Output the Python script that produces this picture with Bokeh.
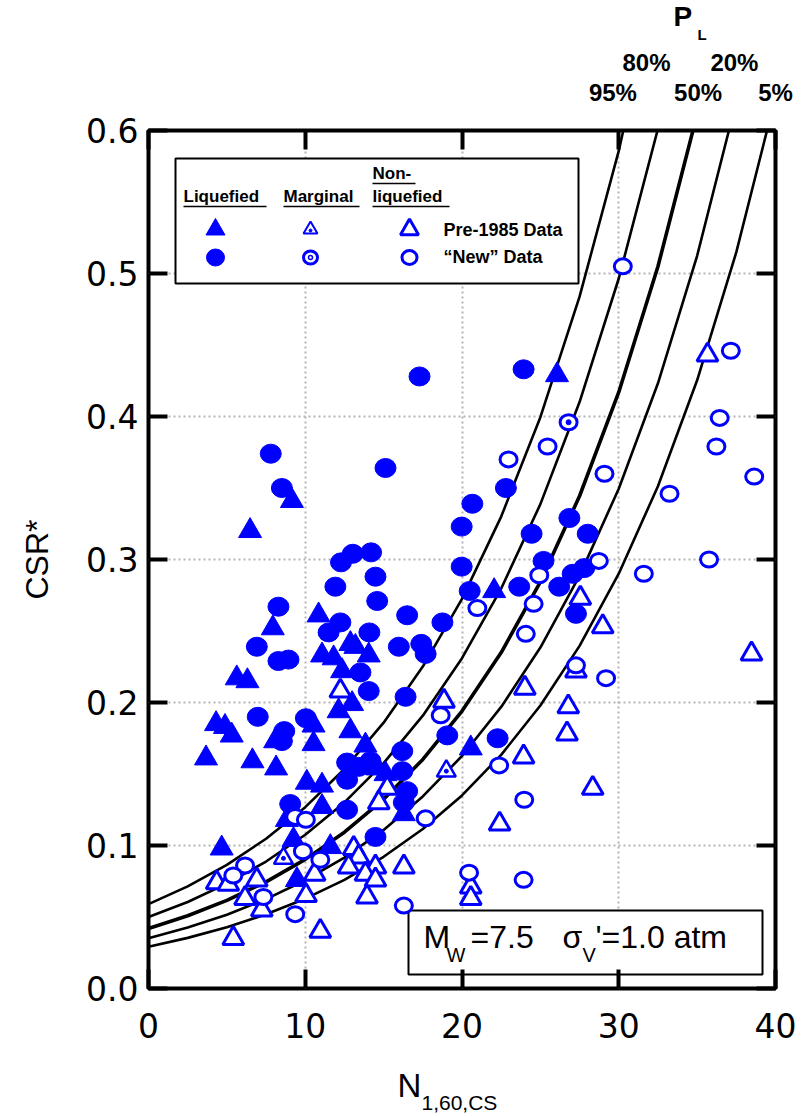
from bokeh.plotting import figure
from bokeh.models import Range1d, LinearAxis, FixedTicker, NumeralTickFormatter, CustomJSTickFormatter
from bokeh.layouts import column
from bokeh.core.properties import value
from bokeh.embed import file_html
from bokeh.resources import INLINE

# ---------------- data ----------------
# probability contour curves, N1,60,cs grid
curve_n = [0, 2.5, 5, 7.5, 10, 12.5, 15, 17.5, 20, 22.5, 25, 27.5, 30, 32.5, 35, 37.5, 40]
curve_95 = [0.0590, 0.0714, 0.0865, 0.1047, 0.1268, 0.1535, 0.1859, 0.2251, 0.2725, 0.3300, 0.3995, 0.4838, 0.5857, 0.7092, 0.86, 1.04, 1.26]
curve_80 = [0.0500, 0.0605, 0.0733, 0.0888, 0.1075, 0.1301, 0.1576, 0.1908, 0.2310, 0.2797, 0.3387, 0.4101, 0.4965, 0.6012, 0.728, 0.88, 1.07]
curve_50 = [0.0420, 0.0509, 0.0616, 0.0746, 0.0903, 0.1093, 0.1323, 0.1602, 0.1940, 0.2349, 0.2844, 0.3444, 0.4170, 0.5049, 0.6113, 0.74, 0.90]
curve_20 = [0.0352, 0.0426, 0.0516, 0.0625, 0.0757, 0.0916, 0.1109, 0.1343, 0.1626, 0.1969, 0.2384, 0.2887, 0.3495, 0.4232, 0.5124, 0.6204, 0.751]
curve_05 = [0.0292, 0.0354, 0.0428, 0.0519, 0.0628, 0.0760, 0.0921, 0.1115, 0.1350, 0.1634, 0.1979, 0.2396, 0.2901, 0.3512, 0.4253, 0.5149, 0.6235]
# labels of the curves (top rows) and the N value over which each is centred
curve_labels_row1 = ["80%", "20%"]
curve_labels_row1_n = [31.77, 37.38]
curve_labels_row2 = ["95%", "50%", "5%"]
curve_labels_row2_n = [29.63, 35.06, 40.0]

# Liquefied, pre-1985 (filled triangles)
liq_pre_n = [9.15, 6.48, 7.93, 5.63, 6.31, 4.31, 4.88, 5.31, 8.08, 3.67, 6.63, 8.14, 8.83, 4.67, 9.25, 9.47, 11.6,
             10.85, 11.07, 11.81, 12.88, 13.2, 14.05, 12.35, 12.13, 12.99, 10.53, 10.53, 12.88, 13.84, 20.56, 10.1,
             11.07, 11.07, 14.59, 15.12, 16.29, 22.05, 26.06]
liq_pre_csr = [0.341, 0.320, 0.252, 0.217, 0.215, 0.185, 0.183, 0.177, 0.173, 0.161, 0.159, 0.154, 0.118, 0.098, 0.104, 0.076, 0.099,
               0.261, 0.233, 0.231, 0.241, 0.239, 0.233, 0.222, 0.194, 0.199, 0.184, 0.171, 0.180, 0.170, 0.168, 0.144,
               0.142, 0.127, 0.154, 0.150, 0.122, 0.278, 0.429]

# Liquefied, "new" data (filled circles)
liq_new_n = [7.80, 8.51, 8.29, 6.91, 8.29, 8.93, 6.97, 10.04, 8.66, 8.51, 9.04,
             17.29, 15.12, 20.66, 19.98, 12.28, 13.03, 14.20, 14.48, 11.92, 19.98, 20.49, 14.59,
             12.24, 16.50, 18.75, 11.49, 14.09, 15.97, 17.40, 17.68, 13.52, 14.05, 16.40, 19.06, 12.67, 13.41,
             14.16, 16.19, 16.19, 16.50, 16.29, 12.67, 12.67, 14.48, 22.27,
             23.93, 22.80, 26.85, 24.44, 28.02, 25.20, 27.80, 27.06, 23.65, 26.20, 27.27]
liq_new_csr = [0.374, 0.350, 0.267, 0.239, 0.229, 0.230, 0.190, 0.189, 0.180, 0.173, 0.129,
               0.428, 0.364, 0.339, 0.323, 0.298, 0.304, 0.305, 0.288, 0.281, 0.295, 0.278, 0.271,
               0.256, 0.261, 0.256, 0.249, 0.249, 0.239, 0.241, 0.234, 0.221, 0.208, 0.204, 0.177, 0.158, 0.155,
               0.159, 0.166, 0.152, 0.138, 0.130, 0.146, 0.125, 0.106, 0.175,
               0.433, 0.350, 0.329, 0.318, 0.318, 0.299, 0.294, 0.290, 0.281, 0.281, 0.262]

# Marginal
marg_pre_n = [8.61, 19.0]
marg_pre_csr = [0.091, 0.152]
marg_new_n = [26.8]
marg_new_csr = [0.396]

# Non-liquefied, pre-1985 (open triangles)
non_pre_n = [4.35, 5.09, 6.91, 6.16, 7.23, 5.41, 10.96, 10.05, 10.6,
             12.24, 18.85, 15.23, 14.69, 13.09, 13.41, 12.77, 14.48, 13.84, 14.48, 13.94, 16.29, 20.56, 20.56, 22.4,
             35.66, 27.55, 28.98, 38.47, 27.27, 24.01, 26.78, 26.70, 23.93, 28.34]
non_pre_csr = [0.074, 0.073, 0.076, 0.063, 0.055, 0.035, 0.040, 0.065, 0.080,
               0.208, 0.201, 0.140, 0.130, 0.098, 0.092, 0.085, 0.085, 0.080, 0.076, 0.064, 0.085, 0.071, 0.063, 0.115,
               0.443, 0.273, 0.253, 0.234, 0.222, 0.210, 0.197, 0.178, 0.162, 0.140]

# Non-liquefied, "new" data (open circles)
non_new_n = [9.36, 10.04, 9.85, 6.16, 5.41, 7.33, 9.36, 10.96,
             20.98, 18.64, 17.68, 16.29, 20.45, 22.37,
             30.26, 36.44, 37.15, 25.46, 36.23, 22.97, 38.64, 29.09, 33.24, 28.73, 35.76, 31.60, 24.93, 24.57,
             24.07, 27.27, 29.19, 23.97, 23.93]
non_new_csr = [0.120, 0.118, 0.096, 0.086, 0.079, 0.064, 0.052, 0.090,
               0.266, 0.191, 0.119, 0.058, 0.081, 0.156,
               0.505, 0.399, 0.446, 0.379, 0.379, 0.370, 0.358, 0.360, 0.346, 0.299, 0.300, 0.290, 0.289, 0.269,
               0.248, 0.226, 0.217, 0.132, 0.076]

x_ticks = [0, 10, 20, 30, 40]
y_ticks = [0.0, 0.1, 0.2, 0.3, 0.4, 0.5, 0.6]

BLUE = "#0000FF"
FONT = "Liberation Sans"
TICK_FONT = "DejaVu Sans"
BORDER_L, FRAME_W, BORDER_R = 148, 627, 24
TOP_H = 42          # strip with "P_L"
MAIN_TOP = 88       # border above the frame (holds the % rows)
MAIN_BOT = 62
BOT_Y0, BOT_H = 1050, 65
BASE_SHIFT = 0.37   # empirical baseline correction (fraction of font size)

# frame geometry on the page (used only to place legend decorations / texts)
FL, FR, FT, FB = 148.0, 775.0, 130.0, 988.0
def px(xp):
    return (xp - FL) / (FR - FL) * 40.0
def py(yp):
    return (FB - yp) / (FB - FT) * 0.6
def ident(v):
    return v

def txt(fig, xs, ys, texts, size, style="normal", align="left", fx=ident, fy=ident):
    s = float(size.replace("px", ""))
    fig.text(x=[fx(v) for v in xs], y=[fy(v - BASE_SHIFT * s) for v in ys], text=texts,
             text_font=value(FONT), text_font_size=value(size),
             text_font_style=style, text_align=align, text_baseline="alphabetic", text_color="black")

def strip_fig(h, y0):
    # a text strip whose frame lines up with the main frame; coordinates = page pixels
    f = figure(frame_width=FRAME_W, frame_height=h, x_range=Range1d(FL, FR), y_range=Range1d(y0 + h, y0),
               x_axis_location=None, y_axis_location=None,
               min_border_left=BORDER_L, min_border_right=BORDER_R, min_border_top=0, min_border_bottom=0,
               output_backend="svg", toolbar_location=None)
    f.grid.visible = False
    f.outline_line_color = None
    f.background_fill_color = "white"
    f.border_fill_color = "white"
    return f

# ---------- top strip: P_L ----------
top = strip_fig(TOP_H, 0)
txt(top, [673], [26], ["P"], "28px", "bold")
txt(top, [697], [40], ["L"], "15px", "bold")

# ---------- main plot ----------
p = figure(frame_width=FRAME_W, frame_height=858, x_range=Range1d(0, 40), y_range=Range1d(0, 0.6),
           min_border_left=BORDER_L, min_border_right=BORDER_R, min_border_top=MAIN_TOP, min_border_bottom=MAIN_BOT,
           output_backend="svg", toolbar_location=None)
p.background_fill_color = "white"
p.border_fill_color = "white"
p.outline_line_color = "black"
p.outline_line_width = 4

for ax in (p.xaxis[0], p.yaxis[0]):
    ax.axis_line_color = None
    ax.major_tick_in = 19
    ax.major_tick_out = 0
    ax.major_tick_line_width = 4
    ax.major_tick_line_color = "black"
    ax.minor_tick_line_color = None
    ax.major_label_text_font = TICK_FONT
    ax.major_label_text_font_size = "33px"
    ax.major_label_text_color = "black"

p.xaxis[0].ticker = FixedTicker(ticks=x_ticks)
p.yaxis[0].ticker = FixedTicker(ticks=y_ticks)
p.yaxis[0].formatter = NumeralTickFormatter(format="0.0")
p.xaxis[0].major_label_standoff = 24
p.yaxis[0].major_label_standoff = 10
p.yaxis[0].axis_label = "CSR*"
p.yaxis[0].axis_label_text_font = FONT
p.yaxis[0].axis_label_text_font_size = "32px"
p.yaxis[0].axis_label_text_font_style = "normal"
p.yaxis[0].axis_label_text_color = "black"
p.yaxis[0].axis_label_standoff = 28

# right & top axes with inward ticks, no labels
for loc, tk in (("right", y_ticks), ("above", x_ticks)):
    a = LinearAxis(ticker=FixedTicker(ticks=tk), formatter=CustomJSTickFormatter(code="return ''"))
    a.axis_line_color = None
    a.major_tick_in = 19
    a.major_tick_out = 0
    a.major_tick_line_width = 4
    a.minor_tick_line_color = None
    a.major_label_standoff = 0
    a.major_label_text_font_size = "0px"
    p.add_layout(a, loc)

# rows of probability labels above the frame (as label-only axes)
for ticks, labels, standoff in ((curve_labels_row2_n, curve_labels_row2, 25),
                                (curve_labels_row1_n, curve_labels_row1, 0)):
    a = LinearAxis(ticker=FixedTicker(ticks=ticks),
                   formatter=CustomJSTickFormatter(args=dict(labels=labels), code="return labels[index]"))
    a.axis_line_color = None
    a.major_tick_line_color = None
    a.major_tick_in = 0
    a.major_tick_out = 0
    a.minor_tick_line_color = None
    a.major_label_standoff = standoff
    a.major_label_text_font = FONT
    a.major_label_text_font_size = "24px"
    a.major_label_text_font_style = "bold"
    a.major_label_text_color = "black"
    p.add_layout(a, "above")

p.xgrid.ticker = FixedTicker(ticks=x_ticks)
p.ygrid.ticker = FixedTicker(ticks=y_ticks)
for g in (p.xgrid[0], p.ygrid[0]):
    g.grid_line_color = "#b4b4b4"
    g.grid_line_dash = "2 3"
    g.grid_line_width = 2

# legend box and condition box (white, cover grid)
p.quad(left=[px(175)], right=[px(578)], top=[py(158)], bottom=[py(283)],
       fill_color="white", line_color="black", line_width=2)
p.quad(left=[px(408)], right=[px(762)], top=[py(910)], bottom=[py(974)],
       fill_color="white", line_color="black", line_width=2)

# curves
for c, w in ((curve_95, 2.6), (curve_80, 2.6), (curve_50, 3.6), (curve_20, 2.6), (curve_05, 2.6)):
    p.line(curve_n, c, line_color="black", line_width=w)

# data
p.scatter(liq_pre_n, liq_pre_csr, marker="triangle", size=23, fill_color=BLUE, line_color=BLUE, line_width=1)
p.ellipse(liq_new_n, liq_new_csr, width=21, height=19, width_units="screen", height_units="screen",
          fill_color=BLUE, line_color=BLUE, line_width=1)
p.scatter(non_pre_n, non_pre_csr, marker="triangle", size=21, fill_color="white", line_color=BLUE, line_width=3)
p.ellipse(non_new_n, non_new_csr, width=17, height=15, width_units="screen", height_units="screen",
          fill_color="white", line_color=BLUE, line_width=3)
p.scatter(marg_pre_n, marg_pre_csr, marker="triangle", size=19, fill_color="white", line_color=BLUE, line_width=2.5)
p.scatter(marg_pre_n, marg_pre_csr, marker="circle", size=4, fill_color=BLUE, line_color=BLUE)
p.ellipse(marg_new_n, marg_new_csr, width=17, height=15, width_units="screen", height_units="screen",
          fill_color="white", line_color=BLUE, line_width=3)
p.scatter(marg_new_n, marg_new_csr, marker="circle", size=5, fill_color=BLUE, line_color=BLUE)

# ---- legend contents ----
txt(p, [183, 283, 372, 372], [202, 202, 179, 202],
    ["Liquefied", "Marginal", "Non-", "liquefied"], "17px", "bold", fx=px, fy=py)
p.segment(x0=[px(183), px(283), px(372), px(372)], y0=[py(206), py(206), py(183), py(206)],
          x1=[px(266), px(359), px(415), px(449)], y1=[py(206), py(206), py(183), py(206)],
          line_color="black", line_width=1.5)
txt(p, [443, 443], [236, 263], ["Pre-1985 Data", "\u201cNew\u201d Data"], "18px", "bold", fx=px, fy=py)
p.scatter([px(215)], [py(229)], marker="triangle", size=19, fill_color=BLUE, line_color=BLUE)
p.scatter([px(310)], [py(229)], marker="triangle", size=14, fill_color="white", line_color=BLUE, line_width=2)
p.scatter([px(310)], [py(230)], marker="circle", size=3, fill_color=BLUE, line_color=BLUE)
p.scatter([px(409)], [py(229)], marker="triangle", size=18, fill_color="white", line_color=BLUE, line_width=3)
p.ellipse([px(215)], [py(257)], width=18, height=17, width_units="screen", height_units="screen",
          fill_color=BLUE, line_color=BLUE)
p.ellipse([px(310)], [py(257)], width=14, height=13, width_units="screen", height_units="screen",
          fill_color="white", line_color=BLUE, line_width=3)
p.scatter([px(310)], [py(257)], marker="circle", size=4, fill_color="white", line_color=BLUE, line_width=1.5)
p.ellipse([px(409)], [py(257)], width=15, height=14, width_units="screen", height_units="screen",
          fill_color="white", line_color=BLUE, line_width=3)

# ---- condition box text ----
txt(p, [423, 470, 562, 595], [948] * 4, ["M", "=7.5", "\u03c3", "'=1.0 atm"], "32px", fx=px, fy=py)
txt(p, [446, 582], [962] * 2, ["W", "V"], "20px", fx=px, fy=py)

# ---------- bottom strip: x-axis title ----------
bot = strip_fig(BOT_H, BOT_Y0)
txt(bot, [397], [1097], ["N"], "33px")
txt(bot, [421], [1110], ["1,60,CS"], "21px")

layout = column(top, p, bot, spacing=0)
open("out.html", "w").write(file_html(layout, INLINE))
